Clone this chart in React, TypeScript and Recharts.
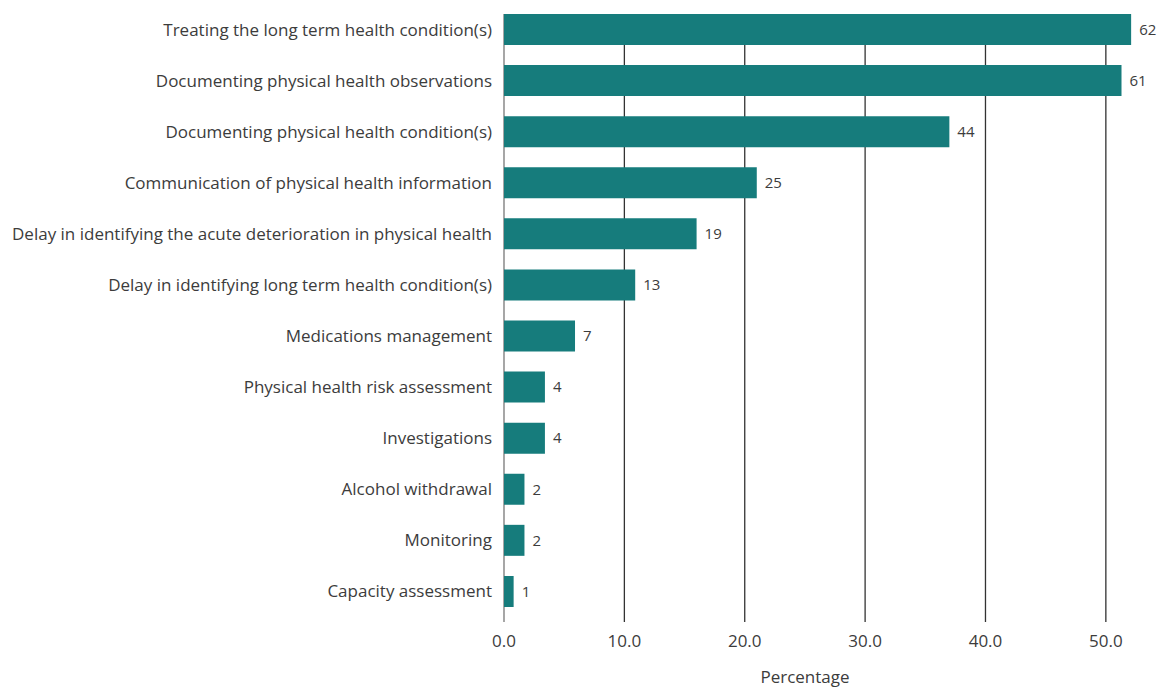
import React from 'react';
import { BarChart, Bar, XAxis, YAxis, CartesianGrid, LabelList } from 'recharts';

// categories, top to bottom
const categories = [
  'Treating the long term health condition(s)',
  'Documenting physical health observations',
  'Documenting physical health condition(s)',
  'Communication of physical health information',
  'Delay in identifying the acute deterioration in physical health',
  'Delay in identifying long term health condition(s)',
  'Medications management',
  'Physical health risk assessment',
  'Investigations',
  'Alcohol withdrawal',
  'Monitoring',
  'Capacity assessment',
];

// bar length (percentage)
const percentages = [52.1, 51.3, 37.0, 21.0, 16.0, 10.9, 5.9, 3.4, 3.4, 1.7, 1.7, 0.8];

// number shown next to each bar
const counts = [62, 61, 44, 25, 19, 13, 7, 4, 4, 2, 2, 1];

const xTicks = [0, 10, 20, 30, 40, 50];

const data = categories.map((name, i) => ({
  name,
  value: percentages[i],
  count: counts[i],
}));

const BAR_COLOR = '#167c7c';
const TEXT_COLOR = '#3c3c3c';
const FONT = '"Open Sans", "Noto Sans", sans-serif';

// grid lines start at the top of the first bar and run a bit past the last one
const gridLine = (props: any) => {
  if (props.x1 > 1140) return null; // no line on the right edge
  const isZero = Math.abs(props.x1 - 504) < 1;
  return (
    <line
      key={`grid-${props.x1}`}
      x1={props.x1}
      x2={props.x2}
      y1={props.y1 + 10}
      y2={props.y2 + 5}
      stroke={isZero ? '#777777' : '#333333'}
      strokeWidth={1.3}
    />
  );
};

export default function App() {
  return (
    <div style={{ position: 'absolute', left: 0, top: 0, fontFamily: FONT }}>
      <BarChart
        width={1157}
        height={688}
        data={data}
        layout="vertical"
        margin={{ top: 4, right: 3, bottom: 0, left: 0 }}
        barSize={31}
      >
        <CartesianGrid horizontal={false} vertical={gridLine} />
        <XAxis
          type="number"
          domain={[0, 54]}
          ticks={xTicks}
          tickFormatter={(v: number) => v.toFixed(1)}
          axisLine={false}
          tickLine={false}
          tickSize={0}
          tickMargin={18}
          height={71}
          tick={{ fill: TEXT_COLOR, fontSize: 17, fontFamily: FONT }}
          label={{
            value: 'Percentage',
            position: 'insideBottom',
            offset: 5,
            dx: -24,
            fill: TEXT_COLOR,
            fontSize: 17,
            fontFamily: FONT,
          }}
        />
        <YAxis
          type="category"
          dataKey="name"
          width={504}
          axisLine={false}
          tickLine={false}
          tickSize={0}
          tickMargin={12}
          interval={0}
          tick={{ fill: TEXT_COLOR, fontSize: 17, fontFamily: FONT }}
        />
        <Bar dataKey="value" fill={BAR_COLOR} isAnimationActive={false}>
          <LabelList
            dataKey="count"
            position="right"
            offset={8}
            fill={TEXT_COLOR}
            fontSize={15}
            fontFamily={FONT}
          />
        </Bar>
      </BarChart>
    </div>
  );
}
